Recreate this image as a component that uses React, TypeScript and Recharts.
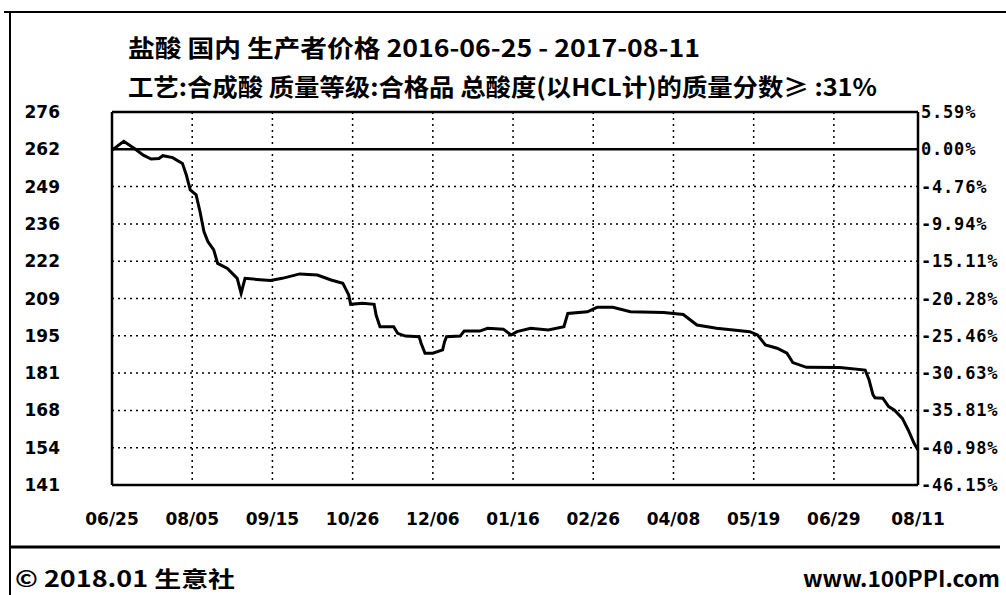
import { CartesianGrid, Line, LineChart, ReferenceLine, XAxis, YAxis } from "recharts";

// days since 2016-06-25
const dayOffsets = [
  0, 6, 12, 16, 20, 24, 26, 31, 36, 38, 40, 43, 45, 47, 49, 52, 54, 59, 64, 66, 68, 74, 81, 87, 96, 105, 112, 118, 121,
  122, 128, 134, 135, 137, 144, 146, 150, 157, 158, 160, 164, 169, 170, 171, 178, 180, 188, 192, 200, 204, 207, 214,
  223, 231, 233, 243, 248, 256, 265, 282, 292, 299, 309, 326, 330, 334, 340, 345, 348, 355, 372, 385, 387, 389, 390,
  394, 397, 400, 404, 407, 410, 412,
];
const prices = [
  262.2, 265.4, 262.5, 260.4, 259.0, 259.2, 260.2, 259.5, 257.4, 253.2, 247.8, 246.0, 239.9, 232.7, 229.1, 226.1, 221.2,
  219.4, 215.8, 210.4, 215.8, 215.4, 215.0, 215.8, 217.4, 217.0, 215.2, 214.0, 209.8, 206.4, 206.8, 206.4, 202.5, 198.3,
  198.3, 195.9, 194.9, 194.7, 192.3, 188.7, 188.7, 189.9, 192.9, 194.7, 194.9, 196.7, 196.7, 197.7, 197.4, 195.3, 196.5,
  197.7, 197.1, 198.3, 203.1, 203.7, 205.3, 205.3, 203.7, 203.4, 202.7, 198.9, 197.7, 196.5, 195.3, 191.7, 190.5, 188.7,
  185.3, 183.6, 183.5, 182.6, 179.0, 173.6, 172.6, 172.4, 169.4, 168.1, 165.1, 160.9, 156.1, 153.7,
];

const xTicks = [0, 41, 82, 123, 164, 205, 246, 287, 328, 369, 412];
const xLabels = ["06/25", "08/05", "09/15", "10/26", "12/06", "01/16", "02/26", "04/08", "05/19", "06/29", "08/11"];
const yTicks = [141, 154.5, 168, 181.5, 195, 208.5, 222, 235.5, 249, 262.5, 276];
const yLabels = ["141", "154", "168", "181", "195", "209", "222", "236", "249", "262", "276"];
const pctLabels = ["-46.15%", "-40.98%", "-35.81%", "-30.63%", "-25.46%", "-20.28%", "-15.11%", "-9.94%", "-4.76%", "0.00%", "5.59%"];
const baseValue = 262.5;

const title = "盐酸 国内 生产者价格 2016-06-25 - 2017-08-11";
const subtitle = "工艺:合成酸 质量等级:合格品 总酸度(以HCL计)的质量分数≥ :31%";

const data = dayOffsets.map((d, i) => ({ day: d, price: prices[i] }));

const tickFont = { fill: "#000", fontSize: 17, fontFamily: "DejaVu Sans", fontWeight: 700 };
const border = { stroke: "#000", strokeWidth: 2.5 };
const cjk = "'Noto Sans CJK SC', 'Noto Sans', sans-serif";

export default function App() {
  return (
    <div style={{ position: "absolute", left: 0, top: 0, width: 1006, height: 595, background: "#fff", overflow: "hidden" }}>
      <LineChart width={1006} height={595} data={data} margin={{ top: 111, right: 0, bottom: 70, left: 0 }}>
        <CartesianGrid stroke="#000" strokeDasharray="2 4" strokeWidth={1.5} />
        <XAxis
          dataKey="day"
          type="number"
          domain={[0, 412]}
          ticks={xTicks}
          interval={0}
          tickFormatter={(v) => xLabels[xTicks.indexOf(v)]}
          tickLine={false}
          tickSize={0}
          tickMargin={28}
          height={40}
          axisLine={border}
          tick={tickFont}
        />
        <XAxis
          xAxisId="top"
          orientation="top"
          type="number"
          domain={[0, 412]}
          allowDataOverflow
          ticks={xTicks}
          tick={false}
          tickLine={false}
          height={1}
          axisLine={border}
        />
        <YAxis
          type="number"
          domain={[141, 276]}
          ticks={yTicks}
          interval={0}
          tickFormatter={(v) => yLabels[yTicks.indexOf(v)]}
          width={112}
          tickLine={false}
          tickSize={0}
          tickMargin={52}
          axisLine={border}
          tick={tickFont}
        />
        <YAxis
          yAxisId="pct"
          orientation="right"
          type="number"
          domain={[141, 276]}
          allowDataOverflow
          ticks={yTicks}
          interval={0}
          tickFormatter={(v) => pctLabels[yTicks.indexOf(v)]}
          width={88}
          tickLine={false}
          tickSize={0}
          tickMargin={3}
          axisLine={border}
          tick={{ fill: "#000", fontSize: 17, fontFamily: "DejaVu Sans Mono", fontWeight: 700, letterSpacing: 0.8 }}
        />
        <ReferenceLine y={baseValue} stroke="#000" strokeWidth={2.5} />
        <Line
          type="linear"
          dataKey="price"
          stroke="#000"
          strokeWidth={3}
          dot={false}
          activeDot={false}
          isAnimationActive={false}
        />
      </LineChart>
      <svg
        width={1006}
        height={595}
        style={{ position: "absolute", left: 0, top: 0, pointerEvents: "none" }}
      >
        <line x1={10} y1={12} x2={10} y2={595} stroke="#000" strokeWidth={2} />
        <line x1={4} y1={12} x2={1006} y2={12} stroke="#000" strokeWidth={2} />
        <line x1={10} y1={547} x2={1000} y2={547} stroke="#000" strokeWidth={3} />
        <text
          x={128}
          y={46}
          dominantBaseline="central"
          fontFamily={cjk}
          fontWeight={700}
          fontSize={24}
          textLength={572}
          lengthAdjust="spacingAndGlyphs"
        >
          {title}
        </text>
        <text
          x={128}
          y={85}
          dominantBaseline="central"
          fontFamily={cjk}
          fontWeight={700}
          fontSize={24}
          textLength={749}
          lengthAdjust="spacingAndGlyphs"
        >
          {subtitle}
        </text>
        <text
          x={15}
          y={577}
          dominantBaseline="central"
          fontFamily={cjk}
          fontWeight={700}
          fontSize={22}
          textLength={220}
          lengthAdjust="spacingAndGlyphs"
        >
          © 2018.01 生意社
        </text>
        <text
          x={1000}
          y={577}
          dominantBaseline="central"
          textAnchor="end"
          fontFamily={cjk}
          fontWeight={700}
          fontSize={22}
          textLength={197}
          lengthAdjust="spacingAndGlyphs"
        >
          www.100PPI.com
        </text>
      </svg>
    </div>
  );
}
